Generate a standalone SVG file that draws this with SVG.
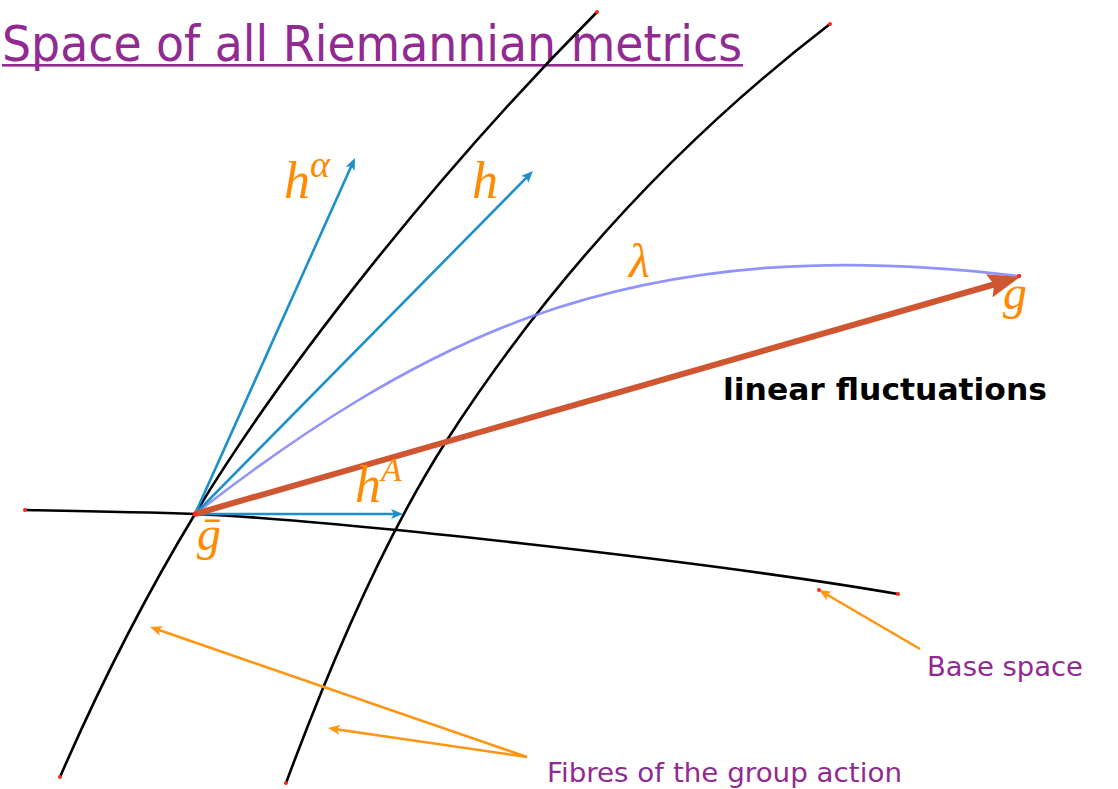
<svg xmlns="http://www.w3.org/2000/svg" width="1118" height="789" viewBox="0 0 1118 789">
  <style>
    .curve { fill: none; stroke: #000; stroke-width: 2.6; stroke-linecap: round; }
    .dot { fill: #ff2a1a; }
    .purple { font-family: "DejaVu Sans", "Liberation Sans", sans-serif; fill: #912a91; }
    .math { font-family: "Liberation Serif", "DejaVu Serif", serif; font-style: italic; fill: #ff8a00; }
    .blue { fill: none; stroke: #1d8fca; stroke-width: 2.6; }
    .pointer { fill: none; stroke: #ff9510; stroke-width: 2.6; }
  </style>
  <defs>
    <marker id="bluehead" viewBox="0 0 12 10" markerUnits="userSpaceOnUse" markerWidth="12" markerHeight="10" refX="4" refY="5" orient="auto">
      <path d="M0,0 L12,5 L0,10 L3,5 z" fill="#1d8fca"/>
    </marker>
    <marker id="orangehead" viewBox="0 0 12 10" markerUnits="userSpaceOnUse" markerWidth="12" markerHeight="10" refX="4" refY="5" orient="auto">
      <path d="M0,0 L12,5 L0,10 L3,5 z" fill="#ff9510"/>
    </marker>
    <marker id="redhead" viewBox="0 0 32 24" markerUnits="userSpaceOnUse" markerWidth="32" markerHeight="24" refX="12" refY="12" orient="auto">
      <path d="M0,0 L32,12 L0,24 L5,12 z" fill="#d05531"/>
    </marker>
  </defs>
  <rect width="1118" height="789" fill="#fff"/>

  <g id="title">
    <text class="purple" x="2" y="61" font-size="49" textLength="740" lengthAdjust="spacingAndGlyphs">Space of all Riemannian metrics</text>
    <rect x="2" y="64" width="741" height="2.6" fill="#912a91"/>
  </g>

  <g id="connectors">
    <g id="fibre-1">
      <path class="curve" d="M60,777 C100,685 143,600 195,514 C285,365 440,170 597,12"/>
    </g>
    <g id="fibre-2">
      <path class="curve" d="M286,783 C328,670 382,541 447,440 C550,280 679,140 830,24"/>
    </g>
    <g id="base-space">
      <path class="curve" d="M25,510 C80,511 140,512 195,514 C330,520 700,560 898,594"/>
    </g>
    <path id="lambda-curve" d="M195,514 C298,434 408,361 530,317 C690,260 850,256 1018,276" fill="none" stroke="#7f7fff" stroke-opacity="0.85" stroke-width="2.6"/>
    <line id="arrow-h-alpha" class="blue" x1="195" y1="514" x2="351.7" y2="165.3" marker-end="url(#bluehead)"/>
    <line id="arrow-h" class="blue" x1="195" y1="514" x2="527.4" y2="176.7" marker-end="url(#bluehead)"/>
    <line id="arrow-h-A" class="blue" x1="195" y1="514" x2="395" y2="514" marker-end="url(#bluehead)"/>
    <line id="arrow-linear" x1="195" y1="514" x2="1000.8" y2="282.5" stroke="#d05531" stroke-width="6" marker-end="url(#redhead)"/>
    <line id="pointer-base" class="pointer" x1="920" y1="649" x2="825.9" y2="594" marker-end="url(#orangehead)"/>
    <line id="pointer-fibre-1" class="pointer" x1="527" y1="757" x2="157.6" y2="629.6" marker-end="url(#orangehead)"/>
    <line id="pointer-fibre-2" class="pointer" x1="527" y1="757" x2="335.9" y2="729.2" marker-end="url(#orangehead)"/>
  </g>

  <g id="endpoints">
    <circle class="dot" cx="597" cy="12" r="2"/>
    <circle class="dot" cx="830" cy="24" r="2"/>
    <circle class="dot" cx="60" cy="777" r="2"/>
    <circle class="dot" cx="286" cy="783" r="2"/>
    <circle class="dot" cx="25" cy="510" r="2"/>
    <circle class="dot" cx="898" cy="594" r="2"/>
    <circle class="dot" cx="819" cy="590" r="2"/>
    <circle class="dot" cx="1019" cy="276" r="2.2"/>
    <circle class="dot" cx="195" cy="514" r="2.4"/>
  </g>

  <g id="label-h-alpha">
    <text class="math" x="284" y="198" font-size="52">h<tspan font-size="38" dy="-21">α</tspan></text>
  </g>
  <g id="label-h">
    <text class="math" x="472" y="198" font-size="52">h</text>
  </g>
  <g id="label-lambda">
    <text class="math" x="629" y="277" font-size="48">λ</text>
  </g>
  <g id="label-h-A">
    <text class="math" x="355" y="502" font-size="52">h<tspan font-size="34" dy="-21">A</tspan></text>
  </g>
  <g id="label-g-bar">
    <text class="math" x="197" y="550" font-size="48">ḡ</text>
  </g>
  <g id="label-g">
    <text class="math" x="1003" y="309" font-size="48">g</text>
  </g>
  <g id="label-linear">
    <text x="723" y="400" font-family="'DejaVu Sans', 'Liberation Sans', sans-serif" font-weight="bold" font-size="30" textLength="324" lengthAdjust="spacingAndGlyphs" fill="#000">linear fluctuations</text>
  </g>
  <g id="label-base">
    <text class="purple" x="927" y="676" font-size="26" textLength="156" lengthAdjust="spacingAndGlyphs">Base space</text>
  </g>
  <g id="label-fibres">
    <text class="purple" x="547" y="782" font-size="26.5" textLength="355" lengthAdjust="spacingAndGlyphs">Fibres of the group action</text>
  </g>
</svg>
